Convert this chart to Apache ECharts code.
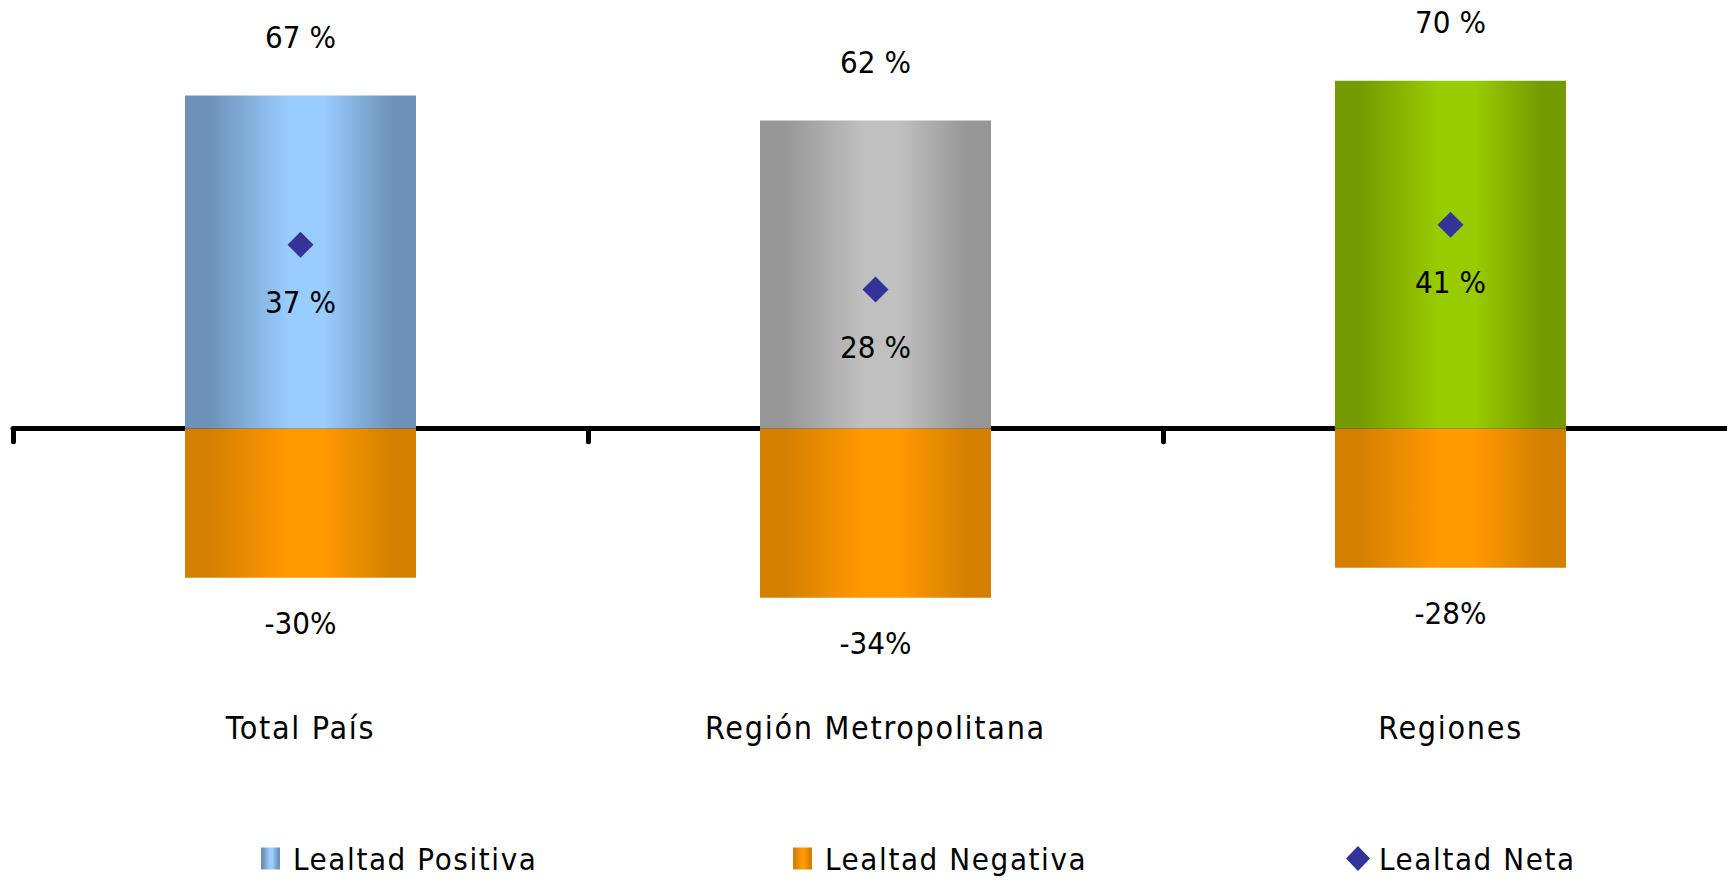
<!DOCTYPE html>
<html>
<head>
<meta charset="utf-8">
<title>Lealtad</title>
<script src="https://cdn.jsdelivr.net/npm/echarts@6/dist/echarts.min.js"></script>
<style>
  html, body { margin: 0; padding: 0; background: #fff; overflow: hidden; }
  /* el eje sigue mas alla del borde derecho, como en el original */
  #chart { width: 1745px; height: 880px; }
</style>
</head>
<body>
<div id="chart"></div>
<script>
  // datos
  var categories = ['Total País', 'Región Metropolitana', 'Regiones'];
  var positiva = [67, 62, 70];
  var negativa = [-30, -34, -28];
  var neta = [37, 28, 41];
  var seriesNames = ['Lealtad Positiva', 'Lealtad Negativa', 'Lealtad Neta'];

  var FONT = "'Liberation Sans Narrow', 'DejaVu Sans Condensed', 'Liberation Sans', sans-serif";

  // degradado horizontal tipo excel (borde oscuro, centro claro)
  function barGradient(edge, center) {
    return new echarts.graphic.LinearGradient(0, 0, 1, 0, [
      {offset: 0, color: edge},
      {offset: 0.1, color: edge},
      {offset: 0.45, color: center},
      {offset: 0.6, color: center},
      {offset: 0.9, color: edge},
      {offset: 1, color: edge}
    ]);
  }

  var posColors = [
    barGradient('#6d91b8', '#99ccff'),
    barGradient('#969696', '#c0c0c0'),
    barGradient('#739a00', '#99cc00')
  ];
  var negColor = barGradient('#d47f00', '#ff9900');

  var chart = echarts.init(document.getElementById('chart'), null, {renderer: 'svg'});

  // espaciado entre letras (el original usa letra estrecha y espaciada)
  chart.on('finished', function () {
    var texts = document.querySelectorAll('#chart svg text');
    texts.forEach(function (t) {
      var s = t.textContent;
      if (categories.indexOf(s) >= 0) {
        t.setAttribute('letter-spacing', '1.7');
      } else if (seriesNames.indexOf(s) >= 0) {
        t.setAttribute('letter-spacing', '1.6');
      }
    });
  });

  function legendAt(left, name, icon, w, h, gap) {
    return {
      left: left,
      top: 843,
      padding: 0,
      itemWidth: w,
      itemHeight: h,
      data: [{name: name, icon: icon}],
      textStyle: {fontFamily: FONT, fontSize: 31, color: '#000', padding: [0, 0, 0, gap]}
    };
  }

  chart.setOption({
    animation: false,
    grid: {left: 13, top: 31, right: 7, bottom: 173},
    legend: [
      legendAt(261, seriesNames[0], 'rect', 19, 22, 8),
      legendAt(793, seriesNames[1], 'rect', 19, 22, 8),
      legendAt(1346, seriesNames[2], 'diamond', 24, 25, 4)
    ],
    xAxis: [
      { // linea del cero con marcas
        type: 'category',
        data: categories,
        position: 'bottom',
        axisLine: {onZero: true, lineStyle: {color: '#000', width: 5}},
        axisTick: {show: true, length: 13, lineStyle: {color: '#000', width: 5, cap: 'round'}},
        axisLabel: {show: false}
      },
      { // etiquetas abajo
        type: 'category',
        data: categories,
        position: 'bottom',
        axisLine: {show: false, onZero: false},
        axisTick: {show: false},
        axisLabel: {margin: 5, fontFamily: FONT, fontSize: 32, color: '#000'}
      }
    ],
    yAxis: {
      type: 'value',
      min: -56,
      max: 80,
      show: false,
      splitLine: {show: false}
    },
    series: [
      {
        name: seriesNames[0],
        type: 'bar',
        stack: 'lealtad',
        barWidth: 231,
        itemStyle: {color: posColors[0]},
        data: positiva.map(function (v, i) {
          return {value: v, itemStyle: {color: posColors[i]}};
        }),
        label: {
          show: true, position: 'top', distance: 43,
          formatter: '{c} %', fontFamily: FONT, fontSize: 31, color: '#000'
        }
      },
      {
        name: seriesNames[1],
        type: 'bar',
        stack: 'lealtad',
        barWidth: 231,
        itemStyle: {color: negColor},
        data: negativa,
        label: {
          show: true, position: 'bottom', distance: 30,
          formatter: '{c}%', fontFamily: FONT, fontSize: 31, color: '#000'
        }
      },
      {
        name: seriesNames[2],
        type: 'scatter',
        symbol: 'diamond',
        symbolSize: 26,
        itemStyle: {color: '#333399', opacity: 1},
        data: neta,
        z: 5,
        label: {
          show: true, position: 'bottom', distance: 29,
          formatter: '{c} %', fontFamily: FONT, fontSize: 31, color: '#000'
        }
      }
    ]
  });
</script>
</body>
</html>
